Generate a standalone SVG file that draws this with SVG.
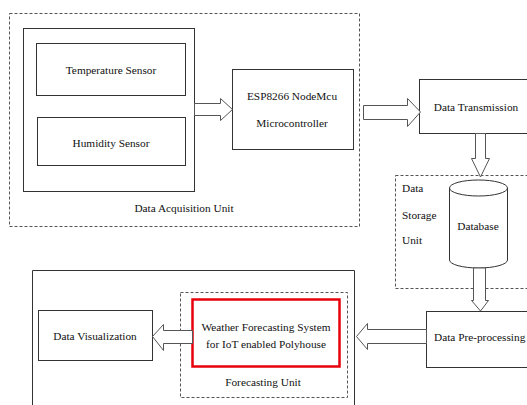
<svg xmlns="http://www.w3.org/2000/svg" width="527" height="405" viewBox="0 0 527 405">
<style>
  .box{fill:#fff;stroke:#333;stroke-width:1}
  .dash{fill:none;stroke:#555;stroke-width:1;stroke-dasharray:3,2}
  .arrow{fill:#fff;stroke:#555;stroke-width:1}
  .red{fill:#fff;stroke:#e8000b;stroke-width:2.5}
  text{font-size:11.3px;fill:#111}
  .c{text-anchor:middle}
</style>
<rect width="527" height="405" fill="#fff"/>
<g font-family="'Liberation Serif', Tinos, 'Times New Roman', 'DejaVu Serif', serif">
<g id="acquisition-unit">
  <rect class="dash" x="9.5" y="13.5" width="350" height="213"/>
  <text class="c" x="184" y="212">Data Acquisition Unit</text>
</g>
<g id="sensors">
  <rect class="box" x="23.5" y="28.5" width="171" height="163"/>
</g>
<g id="temperature-sensor">
  <rect class="box" x="36.5" y="43.5" width="149" height="52"/>
  <text class="c" x="111" y="74">Temperature Sensor</text>
</g>
<g id="humidity-sensor">
  <rect class="box" x="37.5" y="117.5" width="148" height="48"/>
  <text class="c" x="111" y="147">Humidity Sensor</text>
</g>
<g id="esp8266">
  <rect class="box" x="232.5" y="69.5" width="121" height="80"/>
  <text class="c" x="292" y="100">ESP8266 NodeMcu</text>
  <text class="c" x="292" y="127">Microcontroller</text>
</g>
<g id="data-transmission">
  <rect class="box" x="419.5" y="79.5" width="120" height="54"/>
  <text class="c" x="476" y="111">Data Transmission</text>
</g>
<g id="data-storage-unit">
  <rect class="dash" x="395.5" y="175.5" width="140" height="113"/>
  <text x="402" y="192">Data</text>
  <text x="402" y="219">Storage</text>
  <text x="402" y="244">Unit</text>
</g>
<g id="database">
  <path class="box" d="M449.5,188 L449.5,260 A29,8 0 0 0 507.5,260 L507.5,188"/>
  <ellipse class="box" cx="478.5" cy="188" rx="29" ry="8"/>
  <text class="c" x="478" y="230">Database</text>
</g>
<g id="data-preprocessing">
  <rect class="box" x="426.5" y="311.5" width="120" height="56"/>
  <text x="434" y="341" font-size="11">Data Pre-processing</text>
</g>
<g id="output-unit">
  <path class="box" d="M32.5,410 L32.5,270.5 L354.5,270.5 L354.5,410" fill="none"/>
</g>
<g id="forecasting-unit">
  <rect class="dash" x="180.5" y="292.5" width="167" height="105"/>
  <text class="c" x="263" y="386">Forecasting Unit</text>
</g>
<g id="weather-forecasting-system">
  <rect class="red" x="192.5" y="299.5" width="147" height="67"/>
  <text class="c" x="266" y="331">Weather Forecasting System</text>
  <text class="c" x="266" y="348">for IoT enabled Polyhouse</text>
</g>
<g id="data-visualization">
  <rect class="box" x="38.5" y="310.5" width="114" height="50"/>
  <text class="c" x="95" y="340">Data Visualization</text>
</g>
</g>
<g id="connectors">
  <polygon class="arrow" points="194.5,103.5 220.5,103.5 220.5,98.5 232.5,109.5 220.5,120.5 220.5,115.5 194.5,115.5"/>
  <polygon class="arrow" points="363.5,105.5 407.5,105.5 407.5,98.5 420.5,112 407.5,126.5 407.5,119.5 363.5,119.5"/>
  <polygon class="arrow" points="475.5,133.5 485.5,133.5 485.5,158.5 489.5,158.5 480.5,177 471.5,158.5 475.5,158.5"/>
  <polygon class="arrow" points="473.5,268 485.5,268 485.5,300.5 488.5,300.5 480.5,311 471.5,300.5 473.5,300.5"/>
  <polygon class="arrow" points="426.5,329.5 367.5,329.5 367.5,323.5 356.5,336.5 367.5,349.5 367.5,343.5 426.5,343.5"/>
  <polygon class="arrow" points="192.5,330.5 163.5,330.5 163.5,324.5 152.5,336.5 163.5,350.5 163.5,343.5 192.5,343.5"/>
</g>
</svg>
